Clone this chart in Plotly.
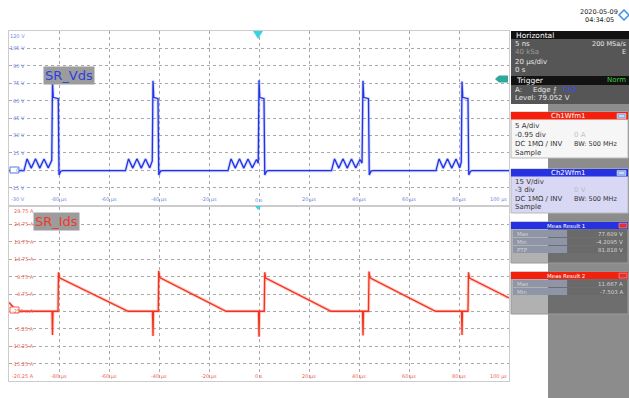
import plotly.graph_objects as go

W, H = 629, 398


def px(x):
    return x / W


def py(y):
    return 1 - y / H


# ---------------- data ----------------
time_grid = [-100, -80, -60, -40, -20, 0, 20, 40, 60, 80, 100]
time_tick_vals = [-80, -60, -40, -20, 0, 20, 40, 60, 80, 100]
time_tick_text = ["-80 µs", "-60 µs", "-40 µs", "-20 µs", "0 s",
                  "20 µs", "40 µs", "60 µs", "80 µs", "100 µs"]

vds_tick_vals = [120, 105, 90, 75, 60, 45, 30, 15, 0, -15, -30]
vds_tick_text = ["120 V", "105 V", "90 V", "75 V", "60 V", "45 V",
                 "30 V", "15 V", "0 V", "-15 V", "-30 V"]

ids_tick_vals = [29.75, 24.75, 19.75, 14.75, 9.75, 4.75, -0.25,
                 -5.25, -10.25, -15.25, -20.25]
ids_tick_text = ["29.75 A", "24.75 A", "19.75 A", "14.75 A", "9.75 A",
                 "4.75 A", "-250 mA", "-5.25 A", "-10.25 A", "-15.25 A",
                 "-20.25 A"]

# SR_Vds waveform (time in µs, volts)
vds_t = [-100.0,
         -94.0, -92.8, -91.1, -89.4, -87.7, -86.0, -84.3, -82.9, -82.6, -82.3, -80.3, -80.0, -79.3, -78.5,
         -53.4, -52.2, -50.5, -48.8, -47.1, -45.4, -43.7, -42.7, -42.4, -42.1, -40.4, -40.1, -39.4, -38.6,
         -12.4, -11.2, -9.5, -7.8, -6.1, -4.4, -2.7, -1.0, -0.3, 0.0, 0.3, 2.0, 2.3, 3.0, 3.8,
         29.0, 30.2, 31.9, 33.6, 35.3, 37.0, 38.7, 40.4, 41.2, 41.6, 41.9, 43.8, 44.1, 44.8, 45.6,
         70.8, 72.0, 73.7, 75.4, 77.1, 78.8, 80.3, 80.9, 81.2, 81.5, 83.6, 83.9, 84.6, 85.4,
         100.0]
vds_v = [-0.3,
         -0.3, 9.8, 1.8, 9.8, 1.8, 9.7, 2.0, 8.5, 76.0, 62.8, 61.6, -4.2, -0.9, -0.3,
         -0.3, 9.8, 1.8, 9.8, 1.8, 9.7, 2.0, 8.0, 77.0, 62.8, 61.6, -4.2, -0.9, -0.3,
         -0.3, 9.8, 1.8, 9.8, 1.8, 9.7, 2.0, 9.2, 6.0, 77.6, 62.8, 61.6, -4.2, -0.9, -0.3,
         -0.3, 9.8, 1.8, 9.8, 1.8, 9.7, 2.0, 9.2, 6.0, 77.0, 62.8, 61.6, -4.2, -0.9, -0.3,
         -0.3, 9.8, 1.8, 9.8, 1.8, 9.7, 2.0, 7.0, 76.5, 62.8, 61.6, -4.2, -0.9, -0.3,
         -0.3]

# SR_Ids waveform (time in µs, amperes)
ids_t = [-100.0, -96.8,
         -82.8, -82.6, -82.4, -80.4, -80.2, -79.8, -52.4,
         -42.6, -42.4, -42.2, -40.3, -40.1, -39.7, -13.2,
         -0.2, 0.0, 0.2, 2.1, 2.3, 2.7, 28.8,
         41.4, 41.6, 41.8, 43.8, 44.0, 44.4, 70.6,
         81.0, 81.2, 81.4, 83.6, 83.8, 84.2, 100.0]
ids_a = [2.3, -0.2,
         -0.2, -7.0, -0.2, -0.2, 11.0, 9.4, -0.2,
         -0.2, -7.3, -0.2, -0.2, 11.4, 9.5, -0.2,
         -0.2, -7.5, -0.2, -0.2, 11.0, 9.3, -0.2,
         -0.2, -7.2, -0.2, -0.2, 11.2, 9.4, -0.2,
         -0.2, -7.0, -0.2, -0.2, 11.0, 9.3, 3.6]

# ---------------- figure ----------------
fig = go.Figure()
fig.add_trace(go.Scatter(x=vds_t, y=vds_v, mode="lines", xaxis="x", yaxis="y",
                         line=dict(color="rgba(110,130,255,0.30)", width=3.2),
                         hoverinfo="skip", showlegend=False))
fig.add_trace(go.Scatter(x=vds_t, y=vds_v, mode="lines", xaxis="x", yaxis="y",
                         line=dict(color="#2233e6", width=1.3), showlegend=False))
fig.add_trace(go.Scatter(x=ids_t, y=ids_a, mode="lines", xaxis="x2", yaxis="y2",
                         line=dict(color="rgba(255,90,70,0.30)", width=3.2),
                         hoverinfo="skip", showlegend=False))
fig.add_trace(go.Scatter(x=ids_t, y=ids_a, mode="lines", xaxis="x2", yaxis="y2",
                         line=dict(color="#f4321e", width=1.3), showlegend=False))

grid = dict(showgrid=True, gridcolor="#a9a9a9", griddash="dot", gridwidth=1,
            zeroline=False, showticklabels=False, ticks="", showline=True,
            linecolor="#cccccc", linewidth=1, mirror=True, fixedrange=True)

fig.update_layout(
    width=W, height=H, margin=dict(l=0, r=0, t=0, b=0),
    paper_bgcolor="white", plot_bgcolor="white", showlegend=False,
    font=dict(family="DejaVu Sans", size=7, color="#222222"),
    xaxis=dict(domain=[px(9), px(509)], range=[-100, 100], tickvals=time_grid,
               anchor="y", **grid),
    yaxis=dict(domain=[py(205), py(31)], range=[-30, 120],
               tickvals=vds_tick_vals, anchor="x", **grid),
    xaxis2=dict(domain=[px(9), px(509)], range=[-100, 100], tickvals=time_grid,
                anchor="y2", **grid),
    yaxis2=dict(domain=[py(381), py(207)], range=[-20.25, 29.75],
                tickvals=ids_tick_vals, anchor="x2", **grid),
)

ann = []
shapes = []

# axis labels drawn inside the panels
n = len(vds_tick_vals)
for i, (v, t) in enumerate(zip(vds_tick_vals, vds_tick_text)):
    sh = -5 if i == 0 else (6 if i == n - 1 else 0)
    ann.append(dict(x=px(27), y=v, xref="paper", yref="y", text=t,
                    xanchor="right", yanchor="middle", showarrow=False,
                    yshift=sh, font=dict(size=5, color="#6a86e6")))
for i, (v, t) in enumerate(zip(ids_tick_vals, ids_tick_text)):
    sh = -4 if i == 0 else (5 if i == n - 1 else 0)
    ann.append(dict(x=px(36), y=v, xref="paper", yref="y2", text=t,
                    xanchor="right", yanchor="middle", showarrow=False,
                    yshift=sh, font=dict(size=5, color="#f0604f")))
for v, t in zip(time_tick_vals, time_tick_text):
    xa = "right" if v == 100 else "center"
    ann.append(dict(x=v, y=py(200), xref="x", yref="paper", text=t,
                    xanchor=xa, yanchor="middle", showarrow=False,
                    font=dict(size=5, color="#6a86e6")))
    ann.append(dict(x=v, y=py(376), xref="x2", yref="paper", text=t,
                    xanchor=xa, yanchor="middle", showarrow=False,
                    font=dict(size=5, color="#f0604f")))

# waveform labels
ann.append(dict(x=px(43), y=py(76), xref="paper", yref="paper", text="SR_Vds",
                xanchor="left", yanchor="middle", showarrow=False,
                bgcolor="#9c9c9c", borderpad=1,
                font=dict(size=13, color="#2c3fe0")))
ann.append(dict(x=px(33), y=py(221), xref="paper", yref="paper", text="SR_Ids",
                xanchor="left", yanchor="middle", showarrow=False,
                bgcolor="#9c9c9c", borderpad=1,
                font=dict(size=13, color="#f03a28")))

# trigger position markers (cyan) and level marker
shapes.append(dict(type="path", xref="paper", yref="paper",
                   path=f"M {px(253)} {py(31)} L {px(263)} {py(31)} L {px(258)} {py(39)} Z",
                   fillcolor="#35d6e0", line=dict(width=0)))
shapes.append(dict(type="path", xref="paper", yref="paper",
                   path=f"M {px(255)} {py(206)} L {px(261)} {py(206)} L {px(258)} {py(210)} Z",
                   fillcolor="#35d6e0", line=dict(width=0)))
shapes.append(dict(type="path", xref="paper", yref="paper",
                   path=f"M {px(495)} {py(79)} L {px(499)} {py(75.5)} L {px(508)} {py(75.5)} "
                        f"L {px(508)} {py(82.5)} L {px(499)} {py(82.5)} Z",
                   fillcolor="#2fa89c", line=dict(width=0)))
# channel ground markers
shapes.append(dict(type="rect", xref="paper", yref="paper",
                   x0=px(10), x1=px(19), y0=py(173), y1=py(167),
                   fillcolor="white", line=dict(color="#5a78e0", width=1)))
shapes.append(dict(type="rect", xref="paper", yref="paper",
                   x0=px(10), x1=px(19), y0=py(313), y1=py(307),
                   fillcolor="white", line=dict(color="#f06050", width=1)))

# ---------------- right side panel ----------------
shapes.append(dict(type="rect", xref="paper", yref="paper", layer="below",
                   x0=px(548), x1=px(629), y0=py(398), y1=py(103),
                   fillcolor="#8c8c8c", line=dict(width=0)))
# Horizontal / Trigger block
shapes.append(dict(type="rect", xref="paper", yref="paper",
                   x0=px(511), x1=px(629), y0=py(104), y1=py(31),
                   fillcolor="#565656", line=dict(width=0)))
for y0, y1 in [(31, 39), (76, 85)]:
    shapes.append(dict(type="rect", xref="paper", yref="paper",
                       x0=px(511), x1=px(629), y0=py(y1), y1=py(y0),
                       fillcolor="#121212", line=dict(width=0)))


def txt(x, y, t, size=7, color="#222222", anchor="left", family="DejaVu Sans"):
    ann.append(dict(x=px(x), y=py(y), xref="paper", yref="paper", text=t,
                    xanchor=anchor, yanchor="middle", showarrow=False,
                    font=dict(size=size, color=color, family=family)))


txt(578, 12.5, "2020-05-09", size=6.5, color="#222222")
txt(583, 20.5, "04:34:05", size=6.5, color="#222222")
shapes.append(dict(type="path", xref="paper", yref="paper",
                   path=f"M {px(624)} {py(10)} L {px(629)} {py(15)} L {px(624)} {py(20)} L {px(619)} {py(15)} Z",
                   fillcolor="white", line=dict(color="#3a8fe6", width=1.5)))

txt(514, 35, "Horizontal", size=7.5, color="#ffffff")
txt(513, 43.5, "5 ns", color="#e8e8e8")
txt(628, 43.5, "200 MSa/s", size=6.5, color="#e8e8e8", anchor="right")
txt(513, 52.5, "40 kSa", color="#9c9c9c")
txt(628, 52.5, "E", size=6.5, color="#e8e8e8", anchor="right")
txt(513, 61.5, "20 µs/div", color="#e8e8e8")
txt(513, 70, "0 s", color="#e8e8e8")
txt(514, 80.5, "Trigger", size=7.5, color="#ffffff")
txt(628, 80.5, "Norm", size=7, color="#3ccc3c", anchor="right")
txt(513, 89.5, "A:", color="#e8e8e8")
txt(531, 89.5, "Edge", color="#e8e8e8")
txt(551, 89.5, "⨍", color="#e8e8e8")
txt(561, 89.5, "Ch2", color="#3a4cff")
txt(513, 98, "Level: 79.052 V", color="#e8e8e8")


def chan_box(y0, y1, head_color, body_color, title):
    shapes.append(dict(type="rect", xref="paper", yref="paper",
                       x0=px(511), x1=px(628), y0=py(y1), y1=py(y0),
                       fillcolor=body_color, line=dict(color="#b8b8b8", width=1)))
    shapes.append(dict(type="rect", xref="paper", yref="paper",
                       x0=px(511), x1=px(628), y0=py(y0 + 7.5), y1=py(y0),
                       fillcolor=head_color, line=dict(width=0)))
    txt(568, y0 + 4, title, size=7, color="#ffffff", anchor="center")
    shapes.append(dict(type="rect", xref="paper", yref="paper",
                       x0=px(617), x1=px(626), y0=py(y0 + 6.5), y1=py(y0 + 1.5),
                       fillcolor="#8fb4ea", line=dict(color="#dfe9f8", width=0.5)))
    shapes.append(dict(type="line", xref="paper", yref="paper",
                       x0=px(619), x1=px(624), y0=py(y0 + 4), y1=py(y0 + 4),
                       line=dict(color="white", width=1)))


chan_box(112, 158, "#f2200c", "#f6f6f6", "Ch1Wfm1")
txt(513, 126, "5 A/div", color="#333333")
txt(513, 135, "-0.95 div", color="#333333")
txt(572, 135, "0 A", color="#c4c4c4")
txt(513, 144, "DC 1MΩ / INV", color="#333333")
txt(572, 144, "BW: 500 MHz", size=6.5, color="#333333")
txt(513, 152.5, "Sample", color="#333333")

chan_box(169, 213, "#2632e2", "#d8d8f4", "Ch2Wfm1")
txt(513, 181.5, "15 V/div", color="#333333")
txt(513, 190, "-3 div", color="#333333")
txt(572, 190, "0 V", color="#b8b8c8")
txt(513, 198.5, "DC 1MΩ / INV", color="#333333")
txt(572, 198.5, "BW: 500 MHz", size=6.5, color="#333333")
txt(513, 207, "Sample", color="#333333")


def meas_box(y0, y1, head_color, title, rows):
    shapes.append(dict(type="rect", xref="paper", yref="paper",
                       x0=px(511), x1=px(628), y0=py(y1), y1=py(y0),
                       fillcolor="rgba(70,70,70,0.42)", line=dict(color="#9a9a9a", width=1)))
    shapes.append(dict(type="rect", xref="paper", yref="paper",
                       x0=px(511), x1=px(628), y0=py(y0 + 7), y1=py(y0),
                       fillcolor=head_color, line=dict(width=0)))
    txt(566, y0 + 3.6, title, size=5.5, color="#ffffff", anchor="center")
    shapes.append(dict(type="rect", xref="paper", yref="paper",
                       x0=px(619), x1=px(627), y0=py(y0 + 6), y1=py(y0 + 1.2),
                       fillcolor="#e03030", line=dict(color="#f4c0c0", width=0.5)))
    yy = y0 + 8
    for lab, val in rows:
        shapes.append(dict(type="rect", xref="paper", yref="paper",
                           x0=px(513), x1=px(567), y0=py(yy + 7), y1=py(yy),
                           fillcolor="#8e95a6", line=dict(width=0)))
        shapes.append(dict(type="rect", xref="paper", yref="paper",
                           x0=px(568), x1=px(627), y0=py(yy + 7), y1=py(yy),
                           fillcolor="#6a6a6a", line=dict(width=0)))
        txt(515, yy + 3.6, lab, size=5.5, color="#d4d4d4")
        txt(625, yy + 3.6, val, size=5.5, color="#d4d4d4", anchor="right")
        yy += 8


meas_box(222, 263, "#2632e2", "Meas Result 1",
         [("Max", "77.609 V"), ("Min", "-4.2095 V"), ("PTP", "81.818 V")])
meas_box(272, 314, "#f2200c", "Meas Result 2",
         [("Max", "11.667 A"), ("Min", "-7.503 A")])

fig.update_layout(annotations=ann, shapes=shapes)
fig.write_html("out.html", config={"displayModeBar": False},
               post_script="document.body.style.margin='0';document.body.style.overflow='hidden';")
